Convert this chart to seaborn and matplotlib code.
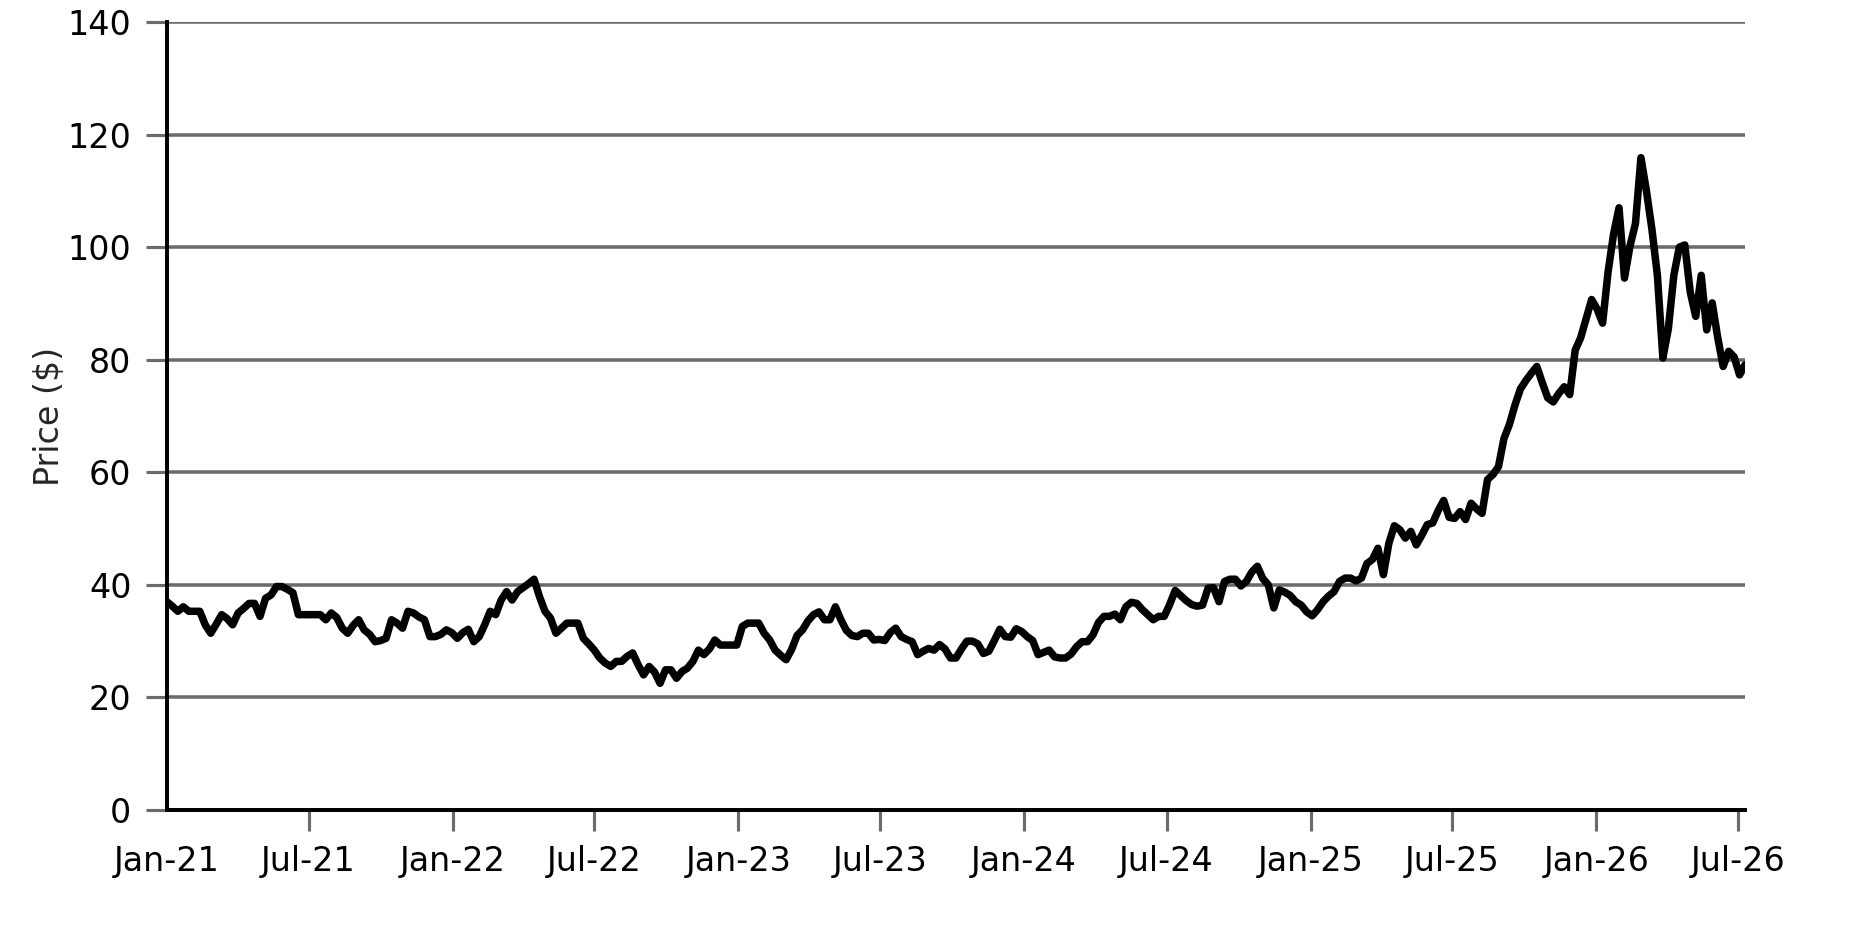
import pandas as pd
import numpy as np
import matplotlib
matplotlib.use('Agg')
import matplotlib.pyplot as plt
import matplotlib.dates as mdates
import seaborn as sns

# Weekly closing prices
start_date = '2021-01-01'
prices = [
    37.0, 36.2, 35.3, 36.1, 35.3, 35.3, 35.3, 32.9, 31.4, 33.0,
    34.7, 34.0, 32.9, 35.0, 35.8, 36.7, 36.7, 34.4, 37.6, 38.2,
    39.7, 39.7, 39.2, 38.6, 34.7, 34.7, 34.7, 34.7, 34.7, 33.8,
    35.0, 34.2, 32.3, 31.4, 32.8, 33.8, 32.0, 31.2, 29.9, 30.1,
    30.5, 33.8, 33.2, 32.3, 35.3, 35.0, 34.3, 33.8, 30.8, 30.8,
    31.2, 32.0, 31.5, 30.5, 31.5, 32.1, 29.9, 30.8, 32.9, 35.3,
    34.7, 37.3, 38.8, 37.3, 38.8, 39.5, 40.2, 41.0, 37.9, 35.3,
    34.1, 31.4, 32.3, 33.2, 33.2, 33.2, 30.5, 29.5, 28.4, 27.0,
    26.1, 25.5, 26.4, 26.4, 27.3, 27.9, 25.8, 24.0, 25.5, 24.5,
    22.5, 24.9, 24.9, 23.4, 24.6, 25.2, 26.4, 28.4, 27.6, 28.6,
    30.2, 29.3, 29.3, 29.3, 29.3, 32.6, 33.2, 33.2, 33.2, 31.4,
    30.2, 28.4, 27.5, 26.7, 28.5, 31.0, 32.0, 33.6, 34.7, 35.2,
    33.8, 33.8, 36.1, 33.8, 31.9, 31.0, 30.8, 31.4, 31.4, 30.2,
    30.3, 30.1, 31.5, 32.3, 30.8, 30.3, 29.9, 27.6, 28.2, 28.7,
    28.4, 29.4, 28.6, 27.0, 27.0, 28.6, 30.0, 30.0, 29.5, 27.8,
    28.2, 30.1, 32.1, 30.8, 30.7, 32.2, 31.7, 30.8, 30.1, 27.6,
    28.0, 28.4, 27.2, 27.0, 27.0, 27.7, 29.0, 29.9, 29.9, 31.1,
    33.3, 34.4, 34.4, 34.8, 33.8, 36.1, 36.9, 36.7, 35.6, 34.7,
    33.8, 34.4, 34.4, 36.5, 39.0, 38.1, 37.2, 36.5, 36.2, 36.4,
    39.4, 39.5, 37.0, 40.6, 41.0, 41.0, 39.8, 40.6, 42.3, 43.3,
    41.1, 40.0, 35.9, 39.1, 38.7, 38.1, 37.0, 36.4, 35.2, 34.5,
    35.6, 37.0, 38.0, 38.8, 40.6, 41.2, 41.2, 40.7, 41.2, 43.8,
    44.5, 46.5, 41.8, 47.4, 50.5, 49.8, 48.3, 49.5, 47.1, 48.8,
    50.7, 51.0, 53.2, 55.0, 52.0, 51.8, 53.0, 51.6, 54.5, 53.5,
    52.7, 58.7, 59.6, 61.0, 66.0, 68.5, 71.9, 74.8, 76.3, 77.6,
    78.8, 75.9, 73.2, 72.5, 74.0, 75.2, 73.8, 81.7, 83.9, 87.3,
    90.7, 89.0, 86.5, 95.6, 102.3, 107.0, 94.5, 100.2, 104.2, 115.9,
    110.0, 103.2, 95.0, 80.3, 85.5, 95.0, 100.0, 100.4, 92.0, 87.7,
    95.0, 85.3, 90.1, 84.0, 78.8, 81.5, 80.5, 77.3, 79.1,
]
y_ticks = [0, 20, 40, 60, 80, 100, 120, 140]

dates = pd.date_range(start_date, periods=len(prices), freq='7D')
df = pd.DataFrame({'date': dates, 'price': prices})

sns.set_style('white')
plt.rcParams['font.family'] = ['DejaVu Sans']

grid_color = '#6b6b6b'

fig = plt.figure(figsize=(12.5, 938 / 150), dpi=150)
ax = fig.add_axes([0.089, 0.1365, 0.8417, 0.84])

sns.lineplot(data=df, x='date', y='price', ax=ax, color='black',
             linewidth=3.6, zorder=3)

ax.set_xlim(dates[0], dates[-1])
ax.set_ylim(0, 140)
ax.set_yticks(y_ticks)
ax.yaxis.grid(True, color=grid_color, linewidth=1.7)
ax.xaxis.grid(False)
ax.set_axisbelow(True)

ax.xaxis.set_major_locator(mdates.MonthLocator(bymonth=[1, 7]))
ax.xaxis.set_major_formatter(mdates.DateFormatter('%b-%y'))

ax.tick_params(axis='both', which='major', direction='out', length=10,
               width=1.5, color=grid_color, labelsize=16, labelcolor='black',
               pad=7, left=True, bottom=True)

for side in ['top', 'right']:
    ax.spines[side].set_visible(False)
for side in ['left', 'bottom']:
    ax.spines[side].set_color('black')
    ax.spines[side].set_linewidth(1.9)

ax.set_xlabel('')
ax.set_ylabel('Price ($)', fontsize=16, labelpad=1)

fig.canvas.draw()
# first tick sits on the spine and is not shown
ax.xaxis.get_major_ticks()[0].tick1line.set_visible(False)

plt.savefig('out.png', dpi=150)
